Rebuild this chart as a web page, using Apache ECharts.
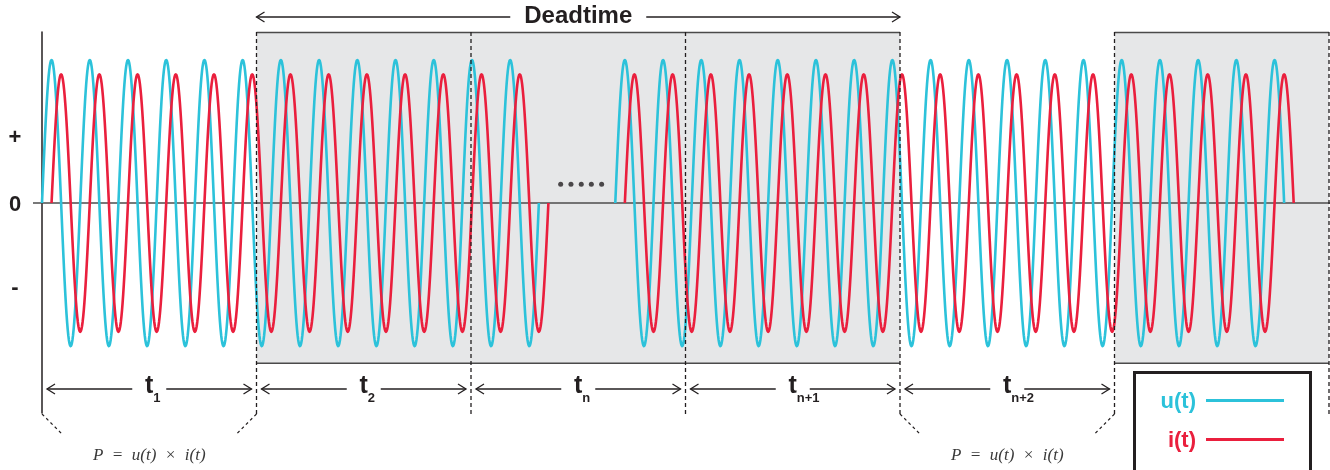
<!DOCTYPE html>
<html><head><meta charset="utf-8">
<script src="https://cdn.jsdelivr.net/npm/echarts@6/dist/echarts.min.js"></script>
<style>html,body{margin:0;padding:0;background:#fff}#c{width:1330px;height:470px}</style>
</head><body><div id="c"></div>
<script>
// ---------------- data ----------------
const BOUNDARIES = [0, 1, 2, 3, 4, 5, 6];               // interval edges (time units)
const INTERVAL_MAIN = ['t', 't', 't', 't', 't'];
const INTERVAL_SUB = ['1', '2', 'n', 'n+1', 'n+2'];
const DEADTIME_SPAN = [1, 4];
const DEADTIME_LABEL = 'Deadtime';
const SHADED = [[1, 4], [5, 6]];
const FORMULA_INTERVALS = [0, 4];
const FORMULA = 'P  =  u(t)  ×  i(t)';
const PERIOD = 0.17818;                                  // time units per cycle
const U_SEGMENTS = [[0, 13], [15, 32.5]];                // cycles
const I_SEGMENTS = [[0.25, 13.25], [15.25, 32.75]];      // cycles
const U_AMP = 1.0, I_AMP = 0.9, I_LAG = 0.25;
const Y_LABELS = ['+', '0', '-'];
const Y_LABEL_VALUES = [0.466, 0, -0.58];
const DOTS_X = [2.418, 2.466, 2.514, 2.561, 2.609];
const DOTS_Y = [0.131, 0.131, 0.131, 0.131, 0.131];
const SERIES_NAMES = ['u(t)', 'i(t)'];

// ---------------- style ----------------
const CYAN = '#2cc2da', RED = '#ea1f3d', INK = '#231f20', GRAY = '#e6e7e8';
const Y_MAX = 1.196, Y_MIN = -1.468, BOX_BOTTOM = -1.12;

const chart = echarts.init(document.getElementById('c'), null, {renderer: 'canvas'});

function wave(name, segs, amp, lag, color) {
  return {
    type: 'custom', name: name, data: segs, z: 3,
    encode: {x: [0, 1]},
    renderItem: function (params, api) {
      const c0 = api.value(0), c1 = api.value(1);
      const n = Math.ceil((c1 - c0) * 64);
      const pts = [];
      for (let k = 0; k <= n; k++) {
        const c = c0 + (c1 - c0) * k / n;
        pts.push(api.coord([c * PERIOD, amp * Math.sin(2 * Math.PI * (c - lag))]));
      }
      return {type: 'polyline', shape: {points: pts},
        style: {stroke: color, lineWidth: 2.6, fill: null, lineJoin: 'round'}};
    }
  };
}

chart.setOption({
  animation: false,
  grid: {left: 42, right: 1, top: 32, bottom: 57},
  xAxis: {type: 'value', min: 0, max: 6, show: false},
  yAxis: {type: 'value', min: Y_MIN, max: Y_MAX,
    axisLine: {show: true, onZero: false, lineStyle: {color: INK, width: 1.5}},
    axisTick: {show: false}, axisLabel: {show: false}, splitLine: {show: false}},
  series: [
    wave(SERIES_NAMES[0], U_SEGMENTS, U_AMP, 0, CYAN),
    wave(SERIES_NAMES[1], I_SEGMENTS, I_AMP, I_LAG, RED),
    {type: 'scatter', data: DOTS_X.map((x, i) => [x, DOTS_Y[i]]), symbolSize: 5,
      itemStyle: {color: INK}, z: 5, silent: true}
  ]
});

const px = x => chart.convertToPixel({xAxisIndex: 0}, x);
const py = y => chart.convertToPixel({yAxisIndex: 0}, y);
const els = [];
const yTop = py(Y_MAX), yBox = py(BOX_BOTTOM), y0 = py(0);
const yDashEnd = 414;

// shaded boxes
SHADED.forEach(([a, b]) => {
  els.push({type: 'rect', z: 0, shape: {x: px(a), y: yTop, width: px(b) - px(a), height: yBox - yTop},
    style: {fill: GRAY}});
  [yTop + 0.5, yBox].forEach(yy => els.push({type: 'line', z: 1,
    shape: {x1: px(a), y1: yy, x2: px(b), y2: yy}, style: {stroke: '#4a4a4a', lineWidth: 1.5}}));
});
// zero line
els.push({type: 'line', z: 1, shape: {x1: 33, y1: y0, x2: 1330, y2: y0},
  style: {stroke: '#4d4d4d', lineWidth: 1.5}});
// dashed boundaries
BOUNDARIES.slice(1).forEach(b => {
  els.push({type: 'line', z: 10, shape: {x1: px(b), y1: yTop, x2: px(b), y2: yDashEnd},
    style: {stroke: INK, lineWidth: 1.3, lineDash: [4, 3]}});
});
// diagonals under formula intervals
FORMULA_INTERVALS.forEach(i => {
  const xl = px(BOUNDARIES[i]), xr = px(BOUNDARIES[i + 1]);
  els.push({type: 'line', z: 10, shape: {x1: xl, y1: yDashEnd, x2: xl + 20, y2: 434},
    style: {stroke: INK, lineWidth: 1.2, lineDash: [3, 3]}});
  els.push({type: 'line', z: 10, shape: {x1: xr, y1: yDashEnd, x2: xr - 20, y2: 434},
    style: {stroke: INK, lineWidth: 1.2, lineDash: [3, 3]}});
  els.push({type: 'text', z: 10, x: (xl + xr) / 2, y: 456,
    style: {text: FORMULA, font: 'italic 17px "Liberation Serif", serif', fill: '#3a3a3a',
      align: 'center', verticalAlign: 'middle'}});
});

function arrow(a, b, y, gap) {
  const m = (a + b) / 2;
  const st = {stroke: INK, lineWidth: 1.3, fill: null};
  els.push({type: 'line', z: 10, shape: {x1: a, y1: y, x2: m - gap, y2: y}, style: st});
  els.push({type: 'line', z: 10, shape: {x1: m + gap, y1: y, x2: b, y2: y}, style: st});
  els.push({type: 'polyline', z: 10, shape: {points: [[a + 8, y - 5], [a, y], [a + 8, y + 5]]}, style: st});
  els.push({type: 'polyline', z: 10, shape: {points: [[b - 8, y - 5], [b, y], [b - 8, y + 5]]}, style: st});
  return m;
}
// interval arrows
INTERVAL_SUB.forEach((sub, i) => {
  const xl = px(BOUNDARIES[i]), xr = px(BOUNDARIES[i + 1]);
  const m = arrow(xl + 5, xr - 5, 389, 17);
  els.push({type: 'text', z: 11, x: m, y: 386.5,
    style: {text: INTERVAL_MAIN[i], font: 'bold 25px "Liberation Sans", Arial, sans-serif', fill: INK,
      align: 'center', verticalAlign: 'middle'}});
  els.push({type: 'text', z: 11, x: m + 4, y: 398.5,
    style: {text: sub, font: 'bold 13px "Liberation Sans", Arial, sans-serif', fill: INK,
      align: 'left', verticalAlign: 'middle'}});
});
// deadtime arrow
const md = arrow(px(DEADTIME_SPAN[0]), px(DEADTIME_SPAN[1]), 17, 68);
els.push({type: 'text', z: 11, x: md, y: 16.5,
  style: {text: DEADTIME_LABEL, font: 'bold 24px "Liberation Sans", Arial, sans-serif', fill: INK,
    align: 'center', verticalAlign: 'middle'}});
// y labels
Y_LABELS.forEach((t, i) => {
  els.push({type: 'text', z: 11, x: 15, y: py(Y_LABEL_VALUES[i]) + 1.5,
    style: {text: t, font: 'bold 22px "Liberation Sans", Arial, sans-serif', fill: INK,
      align: 'center', verticalAlign: 'middle'}});
});
// legend
els.push({type: 'rect', z: 12, shape: {x: 1134.5, y: 372.5, width: 176, height: 110},
  style: {fill: '#fff', stroke: INK, lineWidth: 3}});
[[SERIES_NAMES[0], CYAN, 400.5], [SERIES_NAMES[1], RED, 439.5]].forEach(([name, col, yy]) => {
  els.push({type: 'text', z: 13, x: 1196, y: yy + 1,
    style: {text: name, font: 'bold 22px "Liberation Sans", Arial, sans-serif', fill: col,
      align: 'right', verticalAlign: 'middle'}});
  els.push({type: 'line', z: 13, shape: {x1: 1206, y1: yy, x2: 1284, y2: yy},
    style: {stroke: col, lineWidth: 3}});
});

chart.setOption({graphic: {elements: els}});
</script></body></html>
